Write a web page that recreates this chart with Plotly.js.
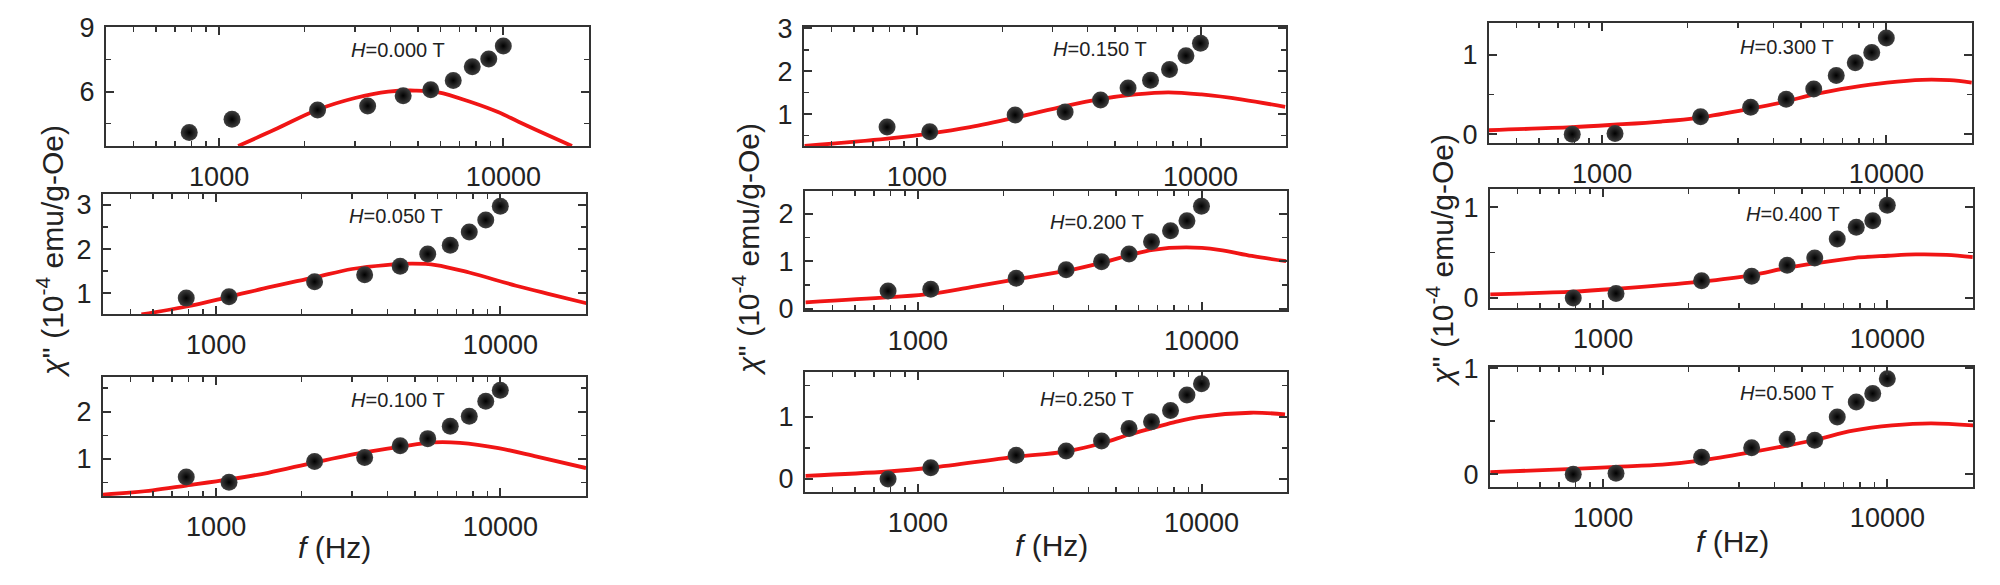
<!DOCTYPE html>
<html><head><meta charset="utf-8">
<script src="https://cdn.plot.ly/plotly-3.0.1.min.js"></script>
<style>html,body{margin:0;padding:0;background:#fff}#chart{width:2000px;height:585px}</style>
</head><body><div id="chart"></div>
<script>
// measured frequencies (Hz)
const freq = [785, 1110, 2220, 3330, 4440, 5550, 6660, 7770, 8880, 9990];
// field labels (T)
const fields = ['0.000', '0.050', '0.100', '0.150', '0.200', '0.250', '0.300', '0.400', '0.500'];
// chi'' data (1e-4 emu/g-Oe)
const chi_000 = [4.08, 4.70, 5.14, 5.33, 5.81, 6.09, 6.52, 7.17, 7.53, 8.14];
const chi_050 = [0.89, 0.92, 1.26, 1.42, 1.61, 1.89, 2.09, 2.39, 2.66, 2.97];
const chi_100 = [0.62, 0.51, 0.95, 1.03, 1.28, 1.43, 1.69, 1.90, 2.22, 2.45];
const chi_150 = [0.70, 0.59, 0.98, 1.05, 1.33, 1.61, 1.79, 2.04, 2.36, 2.65];
const chi_200 = [0.37, 0.41, 0.64, 0.82, 0.99, 1.15, 1.41, 1.64, 1.85, 2.16];
const chi_250 = [0.00, 0.18, 0.38, 0.45, 0.61, 0.81, 0.92, 1.10, 1.35, 1.53];
const chi_300 = [0.00, 0.01, 0.22, 0.34, 0.44, 0.57, 0.74, 0.90, 1.03, 1.21];
const chi_400 = [0.00, 0.05, 0.19, 0.24, 0.36, 0.44, 0.65, 0.78, 0.85, 1.02];
const chi_500 = [0.00, 0.01, 0.16, 0.25, 0.33, 0.32, 0.54, 0.68, 0.76, 0.90];
// fitted curves
const fit_000_f = [1167, 1570, 2208, 3006, 3936, 4887, 5902, 7727, 9570, 11300, 14100, 17420];
const fit_000_y = [3.45, 4.22, 5.14, 5.70, 6.00, 6.05, 5.97, 5.50, 5.04, 4.59, 4.00, 3.45];
const fit_050_f = [546, 787, 1110, 1570, 2220, 3006, 3945, 4900, 5930, 7760, 11350, 15100, 20200];
const fit_050_y = [0.52, 0.70, 0.92, 1.15, 1.36, 1.55, 1.64, 1.67, 1.64, 1.47, 1.17, 0.97, 0.77];
const fit_100_f = [400, 598, 785, 1110, 1525, 2225, 3310, 4460, 5810, 7210, 9840, 13430, 20000];
const fit_100_y = [0.25, 0.34, 0.44, 0.57, 0.71, 0.93, 1.14, 1.26, 1.35, 1.34, 1.23, 1.05, 0.81];
const fit_150_f = [402, 787, 1110, 1540, 2220, 3330, 4430, 5890, 7690, 10070, 14060, 19860];
const fit_150_y = [0.26, 0.43, 0.55, 0.70, 0.92, 1.19, 1.35, 1.46, 1.51, 1.46, 1.34, 1.17];
const fit_200_f = [402, 793, 1115, 1540, 2240, 3360, 4470, 5600, 6730, 8850, 11510, 15030, 19860];
const fit_200_y = [0.13, 0.24, 0.31, 0.45, 0.62, 0.80, 0.97, 1.13, 1.24, 1.29, 1.24, 1.11, 1.00];
const fit_250_f = [402, 785, 1110, 2170, 3300, 4420, 5520, 6610, 7980, 9890, 14890, 19680];
const fit_250_y = [0.05, 0.12, 0.18, 0.35, 0.44, 0.57, 0.71, 0.81, 0.91, 1.00, 1.065, 1.04];
const fit_300_f = [397, 782, 1100, 1615, 2200, 3310, 4410, 5520, 7570, 10050, 13370, 16670, 19950];
const fit_300_y = [0.05, 0.09, 0.12, 0.16, 0.21, 0.32, 0.41, 0.50, 0.59, 0.65, 0.685, 0.68, 0.65];
const fit_400_f = [401, 782, 1100, 2200, 3310, 4410, 5520, 7570, 10050, 12560, 16140, 19950];
const fit_400_y = [0.04, 0.07, 0.10, 0.18, 0.25, 0.33, 0.38, 0.44, 0.465, 0.48, 0.475, 0.45];
const fit_500_f = [401, 789, 1112, 1615, 2230, 3360, 4430, 5580, 7570, 10380, 14220, 20140];
const fit_500_y = [0.02, 0.05, 0.07, 0.09, 0.13, 0.21, 0.27, 0.325, 0.41, 0.46, 0.48, 0.46];
// axis tick labels
const xTickVals = [1000, 10000];
const xTickText = ['1000', '10000'];
const xMinorVals = [400, 500, 600, 700, 800, 900, 2000, 3000, 4000, 5000, 6000, 7000, 8000, 9000, 20000];

const chiSets = [chi_000, chi_050, chi_100, chi_150, chi_200, chi_250, chi_300, chi_400, chi_500];
const fitF = [fit_000_f, fit_050_f, fit_100_f, fit_150_f, fit_200_f, fit_250_f, fit_300_f, fit_400_f, fit_500_f];
const fitY = [fit_000_y, fit_050_y, fit_100_y, fit_150_y, fit_200_y, fit_250_y, fit_300_y, fit_400_y, fit_500_y];

// layout (pixel boxes: left, right, top, bottom) and y ranges
const W = 2000, Hh = 585;
const boxes = [
  [106, 589, 27, 146], [103, 586, 194, 314], [103, 586, 377, 496],
  [804, 1286, 27, 146], [805, 1287, 191, 310], [805, 1287, 372, 492],
  [1489, 1972, 23, 143], [1490, 1973, 189, 308], [1490, 1973, 367, 487]
];
const yRanges = [[3.45, 9.03], [0.53, 3.25], [0.22, 2.73], [0.26, 3.03], [-0.03, 2.48], [-0.21, 1.72], [-0.11, 1.40], [-0.11, 1.2], [-0.12, 1.01]];
const yDticks = [3, 1, 1, 1, 1, 1, 1, 1, 1];
const labelPos = [[0.605, 0.807], [0.607, 0.817], [0.61, 0.807], [0.614, 0.815], [0.606, 0.742], [0.585, 0.775], [0.616, 0.796], [0.627, 0.794], [0.615, 0.78]];

const FONT = 'Liberation Sans, Arial, sans-serif';
const INK = '#222';
const data = [];
const layout = {
  width: W, height: Hh, margin: {l: 0, r: 0, t: 0, b: 0},
  paper_bgcolor: '#fff', plot_bgcolor: '#fff', showlegend: false,
  font: {family: FONT, color: INK},
  annotations: []
};

for (let i = 0; i < 9; i++) {
  const s = i === 0 ? '' : String(i + 1);
  const b = boxes[i];
  data.push({
    x: fitF[i], y: fitY[i], xaxis: 'x' + s, yaxis: 'y' + s, type: 'scatter', mode: 'lines',
    line: {color: '#f01515', width: 3.8, shape: 'spline', smoothing: 1}, hoverinfo: 'skip'
  });
  data.push({
    x: freq, y: chiSets[i], xaxis: 'x' + s, yaxis: 'y' + s, type: 'scatter', mode: 'markers',
    marker: {size: 17, color: '#404040', gradient: {type: 'radial', color: '#000'}, line: {width: 0}},
    cliponaxis: false
  });
  layout['xaxis' + s] = {
    type: 'log', range: [Math.log10(400), Math.log10(20000)],
    domain: [b[0] / W, b[1] / W], anchor: 'y' + s,
    tickvals: xTickVals, ticktext: xTickText,
    ticks: 'inside', ticklen: 8, tickwidth: 2, tickcolor: '#333',
    minor: {tickvals: xMinorVals, ticks: 'inside', ticklen: 5, tickwidth: 1.5, tickcolor: '#333', showgrid: false},
    showline: true, linecolor: '#333', linewidth: 2, mirror: 'ticks',
    showgrid: false, zeroline: false,
    tickfont: {family: FONT, size: 27, color: INK}, ticklabelstandoff: 6
  };
  layout['yaxis' + s] = {
    range: yRanges[i], domain: [1 - b[3] / Hh, 1 - b[2] / Hh], anchor: 'x' + s,
    tick0: 0, dtick: yDticks[i],
    ticks: 'inside', ticklen: 8, tickwidth: 2, tickcolor: '#333',
    minor: {dtick: yDticks[i] / 2, tick0: 0, ticks: 'inside', ticklen: 5, tickwidth: 1.5, tickcolor: '#333', showgrid: false},
    showline: true, linecolor: '#333', linewidth: 2, mirror: 'ticks',
    showgrid: false, zeroline: false,
    tickfont: {family: FONT, size: 27, color: INK}, ticklabelstandoff: 4
  };
  layout.annotations.push({
    text: '<i>H</i>=' + fields[i] + ' T', xref: 'x' + s + ' domain', yref: 'y' + s + ' domain',
    x: labelPos[i][0], y: labelPos[i][1], xanchor: 'center', yanchor: 'middle', showarrow: false,
    font: {family: FONT, size: 20, color: INK}
  });
}

const yTitle = '<i>χ</i>\'\' (10<sup>-4</sup> emu/g-Oe)';
const xTitle = '<i>f</i> (Hz)';
const yTitlePos = [[50, 252], [746, 250], [1440, 261]];
const xTitlePos = [[334, 547], [1051, 545], [1732, 541]];
yTitlePos.forEach(p => layout.annotations.push({
  text: yTitle, xref: 'paper', yref: 'paper', x: p[0] / W, y: 1 - p[1] / Hh,
  xanchor: 'center', yanchor: 'middle', textangle: -90, showarrow: false,
  font: {family: FONT, size: 30, color: INK}
}));
xTitlePos.forEach(p => layout.annotations.push({
  text: xTitle, xref: 'paper', yref: 'paper', x: p[0] / W, y: 1 - p[1] / Hh,
  xanchor: 'center', yanchor: 'middle', showarrow: false,
  font: {family: FONT, size: 30, color: INK}
}));

Plotly.newPlot('chart', data, layout, {staticPlot: true});
</script></body></html>
